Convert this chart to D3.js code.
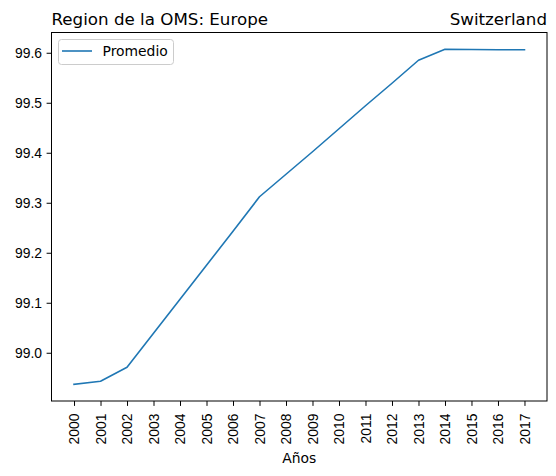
<!DOCTYPE html>
<html lang="es">
<head>
<meta charset="UTF-8">
<title>Region de la OMS: Europe - Switzerland</title>
<style>
    body { margin: 0; background: #fff; }
    svg { display: block; font-family: "DejaVu Sans", sans-serif; }
    .tick text { font-size: 13.9px; fill: #000; }
    .tick line { stroke: #000; }
    .domain { display: none; }
</style>
</head>
<body>
<svg id="chart" width="556" height="476"></svg>
<script src="https://d3js.org/d3.v7.min.js"></script>
<script>
    // values
    const years = [2000, 2001, 2002, 2003, 2004, 2005, 2006, 2007, 2008,
                   2009, 2010, 2011, 2012, 2013, 2014, 2015, 2016, 2017];
    const promedio = [98.937, 98.943, 98.971, 99.039, 99.107, 99.175, 99.243, 99.312, 99.357,
                      99.402, 99.448, 99.494, 99.539, 99.585, 99.607, 99.6065, 99.606, 99.606];
    const yTicks = [99.0, 99.1, 99.2, 99.3, 99.4, 99.5, 99.6];
    const titleLeft = "Region de la OMS: Europe";
    const titleRight = "Switzerland";
    const xLabel = "Años";
    const seriesName = "Promedio";

    const svg = d3.select("#chart");
    const margin = { top: 32.5, right: 9, bottom: 75, left: 51.5 };
    const width = 556 - margin.left - margin.right;
    const height = 476 - margin.top - margin.bottom;

    // matplotlib-like 5% margins
    const pad = (lo, hi) => [lo - (hi - lo) * 0.05, hi + (hi - lo) * 0.05];
    const x = d3.scaleLinear().domain(pad(d3.min(years), d3.max(years))).range([0, width]);
    const y = d3.scaleLinear().domain(pad(d3.min(promedio), d3.max(promedio))).range([height, 0]);

    const g = svg.append("g").attr("transform", `translate(${margin.left},${margin.top})`);

    // x axis, labels turned 90 degrees
    const xAxis = g.append("g")
        .attr("transform", `translate(0,${height})`)
        .call(d3.axisBottom(x).tickValues(years).tickFormat(d3.format("d")).tickSize(4.9));
    xAxis.selectAll("text")
        .attr("text-anchor", "end")
        .attr("x", 0)
        .attr("y", 0)
        .attr("dy", "0.33em")
        .attr("transform", "translate(0,12.5) rotate(-90)");

    g.append("g")
        .call(d3.axisLeft(y).tickValues(yTicks).tickFormat(d3.format(".1f")).tickSize(4.9).tickPadding(4.5));

    // line
    const line = d3.line()
        .x((d, i) => x(years[i]))
        .y(d => y(d));

    g.append("path")
        .datum(promedio)
        .attr("fill", "none")
        .attr("stroke", "#1f77b4")
        .attr("stroke-width", 1.6)
        .attr("stroke-linejoin", "round")
        .attr("stroke-linecap", "square")
        .attr("d", line);

    // frame
    g.append("rect")
        .attr("width", width)
        .attr("height", height)
        .attr("fill", "none")
        .attr("stroke", "#000")
        .attr("stroke-width", 1);

    // legend
    const legend = g.append("g").attr("transform", "translate(7,7)");
    legend.append("rect")
        .attr("width", 115)
        .attr("height", 25)
        .attr("rx", 3)
        .attr("fill", "#fff")
        .attr("fill-opacity", 0.8)
        .attr("stroke", "#cccccc");
    legend.append("line")
        .attr("x1", 3.5).attr("x2", 33.5)
        .attr("y1", 11.5).attr("y2", 11.5)
        .attr("stroke", "#1f77b4")
        .attr("stroke-width", 1.6);
    legend.append("text")
        .attr("x", 44)
        .attr("y", 16.5)
        .attr("font-size", "13.9px")
        .text(seriesName);

    // titles
    svg.append("text")
        .attr("x", margin.left)
        .attr("y", 24.5)
        .attr("font-size", "16.7px")
        .text(titleLeft);
    svg.append("text")
        .attr("x", margin.left + width)
        .attr("y", 24.5)
        .attr("text-anchor", "end")
        .attr("font-size", "16.7px")
        .text(titleRight);

    svg.append("text")
        .attr("x", margin.left + width / 2)
        .attr("y", 462.5)
        .attr("text-anchor", "middle")
        .attr("font-size", "13.9px")
        .text(xLabel);
</script>
</body>
</html>
